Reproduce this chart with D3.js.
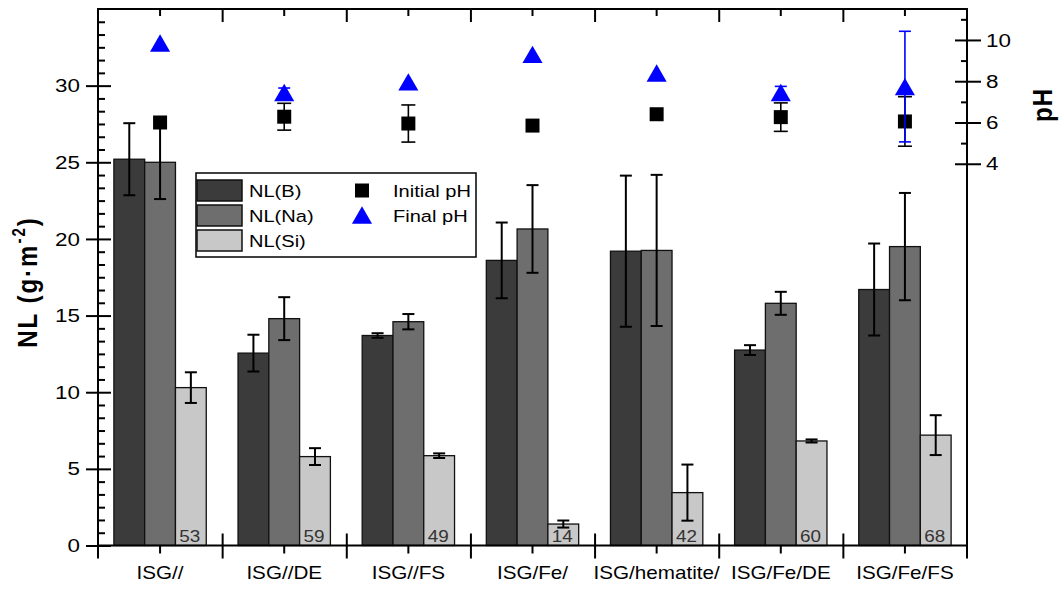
<!DOCTYPE html>
<html lang="en">
<head>
<meta charset="UTF-8">
<title>NL and pH</title>
<script src="https://d3js.org/d3.v7.min.js"></script>
<style>
  body { margin: 0; background: #fff; }
  svg text { font-family: "Liberation Sans", Arial, sans-serif; fill: #000; }
</style>
</head>
<body>
<div id="chart"></div>
<script>
const categories = ["ISG//", "ISG//DE", "ISG//FS", "ISG/Fe/", "ISG/hematite/", "ISG/Fe/DE", "ISG/Fe/FS"];
const nlB = [25.2, 12.55, 13.7, 18.6, 19.2, 12.75, 16.7];
const nlBErr = [2.35, 1.2, 0.15, 2.47, 4.93, 0.32, 3.0];
const nlNa = [25.0, 14.8, 14.6, 20.65, 19.25, 15.8, 19.5];
const nlNaErr = [2.4, 1.4, 0.5, 2.86, 4.93, 0.75, 3.5];
const nlSi = [10.3, 5.8, 5.86, 1.4, 3.45, 6.82, 7.2];
const nlSiErr = [1.0, 0.55, 0.15, 0.23, 1.83, 0.1, 1.3];
const siLabels = ["53", "59", "49", "14", "42", "60", "68"];
const initialPH = [6.0, 6.28, 5.95, 5.85, 6.4, 6.26, 6.05];
const initialPHErr = [0, 0.65, 0.9, 0, 0, 0.69, 1.2];
const finalPH = [9.85, 7.45, 7.97, 9.3, 8.4, 7.45, 7.74];
const finalPHErr = [0, 0.22, 0, 0, 0, 0.3, 2.68];
const nlTicks = [0, 5, 10, 15, 20, 25, 30];
const phTicks = [4, 6, 8, 10];

const W = 1060, H = 589;
const SX = 1.18; // the source picture is stretched a little horizontally
const pLeft = 98, pRight = 967, pTop = 9, pBottom = 545.5;

const svg = d3.select("#chart").append("svg").attr("width", W).attr("height", H);

const x = d3.scaleBand().domain(categories).range([pLeft, pRight]);
const xi = d3.scaleLinear().domain([0, categories.length]).range([pLeft, pRight]);
const y = d3.scaleLinear().domain([0, 35]).range([pBottom, pTop]);
const yPH = d3.scaleLinear().domain([-14.5, 11.5]).range([pBottom, pTop]);
const bw = x.bandwidth() * 0.248;
const cx = (c, k) => x(c) + x.bandwidth() / 2 + (k - 1) * bw;

const series = [
    {name: "NL(B)", values: nlB, err: nlBErr, color: "#3b3b3b"},
    {name: "NL(Na)", values: nlNa, err: nlNaErr, color: "#6e6e6e"},
    {name: "NL(Si)", values: nlSi, err: nlSiErr, color: "#c8c8c8"}
];

function label(g, px, py, txt, size, anchor) {
    return g.append("text")
        .attr("transform", `translate(${px},${py}) scale(${SX},1)`)
        .attr("text-anchor", anchor)
        .style("font-size", size + "px")
        .text(txt);
}

function stretchTicks(g) {
    g.selectAll(".tick text").each(function() {
        const t = d3.select(this);
        t.attr("x", (+t.attr("x") || 0) / SX).attr("transform", `scale(${SX},1)`);
    });
}

function errBar(g, px, py0, py1, cap, color, sw) {
    g.append("line").attr("x1", px).attr("x2", px).attr("y1", py0).attr("y2", py1)
        .attr("stroke", color).attr("stroke-width", sw);
    [py0, py1].forEach(v => g.append("line")
        .attr("x1", px - cap / 2).attr("x2", px + cap / 2).attr("y1", v).attr("y2", v)
        .attr("stroke", color).attr("stroke-width", sw));
}

// bars
series.forEach((s, k) => {
    svg.append("g").selectAll("rect")
        .data(categories)
        .join("rect")
        .attr("x", c => cx(c, k) - bw / 2)
        .attr("y", (c, i) => y(s.values[i]))
        .attr("width", bw)
        .attr("height", (c, i) => y(0) - y(s.values[i]))
        .attr("fill", s.color)
        .attr("stroke", "#111")
        .attr("stroke-width", 1.3);
});

// bar error bars
const gErr = svg.append("g");
series.forEach((s, k) => {
    categories.forEach((c, i) => {
        errBar(gErr, cx(c, k), y(s.values[i] + s.err[i]), y(s.values[i] - s.err[i]), 12, "#000", 2);
    });
});

// numbers inside Si bars
const gNum = svg.append("g");
categories.forEach((c, i) => {
    label(gNum, cx(c, 2) - 1, pBottom - 4, siLabels[i], 16, "middle").style("fill", "#333");
});

// initial pH
const gPH = svg.append("g");
categories.forEach((c, i) => {
    if (initialPHErr[i] > 0)
        errBar(gPH, cx(c, 1), yPH(initialPH[i] + initialPHErr[i]), yPH(initialPH[i] - initialPHErr[i]), 14, "#000", 1.6);
});
gPH.selectAll("path.sq")
    .data(categories)
    .join("path")
    .attr("class", "sq")
    .attr("transform", (c, i) => `translate(${cx(c, 1)},${yPH(initialPH[i])})`)
    .attr("d", d3.symbol(d3.symbolSquare, 196))
    .attr("fill", "#000");

// final pH
const triOffset = Math.sqrt(175 / (Math.sqrt(3) * 3)) / 2;
const gFin = svg.append("g");
gFin.selectAll("path.tri")
    .data(categories)
    .join("path")
    .attr("class", "tri")
    .attr("transform", (c, i) => `translate(${cx(c, 1)},${yPH(finalPH[i]) + triOffset})`)
    .attr("d", d3.symbol(d3.symbolTriangle, 175))
    .attr("fill", "#0000ff");
categories.forEach((c, i) => {
    if (finalPHErr[i] > 0)
        errBar(gFin, cx(c, 1), yPH(finalPH[i] + finalPHErr[i]), yPH(finalPH[i] - finalPHErr[i]), 12, "#0000ff", 1.6);
});

// axes
const axisStyle = g => {
    g.select(".domain").remove();
    g.selectAll(".tick line").attr("stroke", "#000").attr("stroke-width", 2);
    g.attr("font-family", null).attr("font-size", null);
};

// left
const gL = svg.append("g").attr("transform", `translate(${pLeft},0)`)
    .call(d3.axisLeft(y).tickValues(nlTicks).tickSize(12).tickPadding(6))
    .call(axisStyle);
gL.selectAll(".tick line").attr("x1", 13);
gL.selectAll(".tick text").style("font-size", "19px");
stretchTicks(gL);

const nlMinor = d3.range(0, 43).filter(k => k % 6 !== 0).map(k => k * 5 / 6);
svg.append("g").attr("transform", `translate(${pLeft},0)`)
    .call(d3.axisRight(y).tickValues(nlMinor).tickSize(7).tickFormat(""))
    .call(axisStyle);

// right
const gR = svg.append("g").attr("transform", `translate(${pRight},0)`)
    .call(d3.axisRight(yPH).tickValues(phTicks).tickSize(14).tickPadding(5))
    .call(axisStyle);
gR.selectAll(".tick line").attr("x1", -12);
gR.selectAll(".tick text").style("font-size", "19px");
stretchTicks(gR);

svg.append("g").attr("transform", `translate(${pRight},0)`)
    .call(d3.axisLeft(yPH).tickValues([5, 7, 9, 11]).tickSize(6).tickFormat(""))
    .call(axisStyle);

// bottom
const gB = svg.append("g").attr("transform", `translate(0,${pBottom})`)
    .call(d3.axisBottom(x).tickSize(8).tickPadding(13))
    .call(axisStyle);
gB.selectAll(".tick text").style("font-size", "17.5px");
stretchTicks(gB);

const gBb = svg.append("g").attr("transform", `translate(0,${pBottom})`)
    .call(d3.axisBottom(xi).tickValues(d3.range(1, categories.length)).tickSize(13).tickFormat(""))
    .call(axisStyle);
gBb.selectAll(".tick line").attr("y1", -12);

// top
svg.append("g").attr("transform", `translate(0,${pTop})`)
    .call(d3.axisBottom(x).tickSize(7).tickFormat(""))
    .call(axisStyle);
svg.append("g").attr("transform", `translate(0,${pTop})`)
    .call(d3.axisBottom(xi).tickValues(d3.range(1, categories.length)).tickSize(13).tickFormat(""))
    .call(axisStyle);

// frame
const frame = svg.append("g").attr("stroke", "#000").attr("stroke-width", 2);
frame.append("line").attr("x1", pLeft).attr("x2", pRight).attr("y1", pTop).attr("y2", pTop);
frame.append("line").attr("x1", pLeft).attr("x2", pRight).attr("y1", pBottom).attr("y2", pBottom);
frame.append("line").attr("x1", pLeft).attr("x2", pLeft).attr("y1", pTop - 1).attr("y2", pBottom + 13);
frame.append("line").attr("x1", pRight).attr("x2", pRight).attr("y1", pTop - 1).attr("y2", pBottom + 13);

// axis titles
const yTitle = svg.append("text")
    .attr("transform", `translate(37,282) scale(${SX},1) rotate(-90)`)
    .attr("text-anchor", "middle")
    .style("font-size", "24px")
    .style("font-weight", "bold")
    .style("letter-spacing", "2px");
yTitle.append("tspan").text("NL (g\u00b7m");
yTitle.append("tspan").attr("dy", -10).style("font-size", "15px").text("-2");
yTitle.append("tspan").attr("dy", 10).text(")");

svg.append("text")
    .attr("transform", `translate(1052,105) scale(${SX},1) rotate(-90)`)
    .attr("text-anchor", "middle")
    .style("font-size", "24px")
    .style("font-weight", "bold")
    .style("letter-spacing", "1px")
    .text("pH");

// legend
const lg = svg.append("g");
lg.append("rect").attr("x", 196).attr("y", 173).attr("width", 280).attr("height", 84)
    .attr("fill", "#fff").attr("stroke", "#000").attr("stroke-width", 1.5);
series.forEach((s, k) => {
    lg.append("rect").attr("x", 197).attr("y", 180 + k * 25).attr("width", 45).attr("height", 21)
        .attr("fill", s.color).attr("stroke", "#111").attr("stroke-width", 1.5);
    label(lg, 249, 197 + k * 25, s.name, 17, "start");
});
lg.append("path").attr("transform", "translate(362,190.5)")
    .attr("d", d3.symbol(d3.symbolSquare, 196)).attr("fill", "#000");
lg.append("path").attr("transform", `translate(362,${215 + triOffset})`)
    .attr("d", d3.symbol(d3.symbolTriangle, 175)).attr("fill", "#0000ff");
label(lg, 393, 197, "Initial pH", 17, "start");
label(lg, 393, 222, "Final pH", 17, "start");
</script>
</body>
</html>
